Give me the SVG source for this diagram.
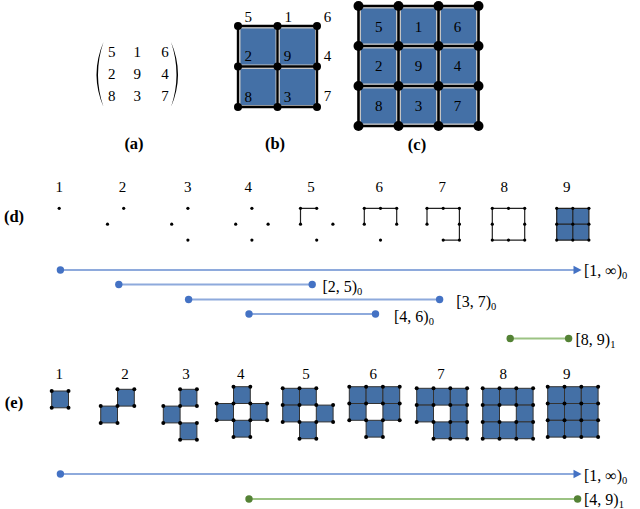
<svg xmlns="http://www.w3.org/2000/svg" width="640" height="509" viewBox="0 0 640 509" font-family="'Liberation Serif','DejaVu Serif',serif">
<style>
text{font-family:"Liberation Serif","DejaVu Serif",serif;fill:#000}
.n{font-size:15px;text-anchor:middle}
.lab{font-size:16.5px;font-weight:bold;text-anchor:middle}
.bl{font-size:16px}
.sub{font-size:10.5px}
.cellB{fill:#4470a6;stroke:#c4c4c4;stroke-width:1}
.gridB{stroke:#000;fill:none;stroke-linecap:round}
.ec{fill:#4470a6;stroke:#333;stroke-width:1}
.de{stroke:#222;stroke-width:1.2;fill:none}
.bline{stroke:#8eaadc;stroke-width:2}
.gline{stroke:#9cc383;stroke-width:2}
.bdot{fill:#4472c4}
.gdot{fill:#548235}
</style>
<defs>
<circle id="d" r="2" fill="#000"/>
<circle id="s" r="1.6" fill="#000"/>
<rect id="c" width="16.8" height="16.8" class="ec"/>
</defs>

<g id="matrix-a">
<path d="M103.5,42 Q89.5,74.5 103.5,107 Q92.5,74.5 103.5,42 Z" fill="#000"/>
<path d="M171,42 Q185,74.5 171,107 Q182,74.5 171,42 Z" fill="#000"/>
<text class="n" x="111.7" y="57">5</text><text class="n" x="137.3" y="57">1</text><text class="n" x="165" y="57">6</text>
<text class="n" x="111.7" y="79">2</text><text class="n" x="137.3" y="79">9</text><text class="n" x="165" y="79">4</text>
<text class="n" x="111.7" y="101">8</text><text class="n" x="137.3" y="101">3</text><text class="n" x="165" y="101">7</text>
<text class="lab" x="134" y="149">(a)</text>
</g>

<g id="grid-b">
<rect class="cellB" x="240" y="28" width="36" height="37" rx="2"/>
<rect class="cellB" x="279.5" y="28" width="36" height="37" rx="2"/>
<rect class="cellB" x="240" y="68.5" width="36" height="37" rx="2"/>
<rect class="cellB" x="279.5" y="68.5" width="36" height="37" rx="2"/>
<path class="gridB" stroke-width="2.4" d="M238,26H317V107H238Z M238,66.5H317 M277.5,26V107"/>
<g fill="#000">
<circle cx="238" cy="26" r="4"/><circle cx="277.5" cy="26" r="4"/><circle cx="317" cy="26" r="4"/>
<circle cx="238" cy="66.5" r="4"/><circle cx="277.5" cy="66.5" r="4"/><circle cx="317" cy="66.5" r="4"/>
<circle cx="238" cy="107" r="4"/><circle cx="277.5" cy="107" r="4"/><circle cx="317" cy="107" r="4"/>
</g>
<text class="n" x="248.3" y="22">5</text><text class="n" x="288.3" y="22">1</text><text class="n" x="327.5" y="22">6</text>
<text class="n" x="248.3" y="61">2</text><text class="n" x="287.5" y="61">9</text><text class="n" x="327.5" y="61">4</text>
<text class="n" x="248.3" y="101.5">8</text><text class="n" x="287.5" y="101.5">3</text><text class="n" x="327.5" y="101">7</text>
<text class="lab" x="275" y="149">(b)</text>
</g>

<g id="grid-c">
<rect class="cellB" x="360.5" y="8" width="36" height="36" rx="2"/>
<rect class="cellB" x="400.5" y="8" width="36" height="36" rx="2"/>
<rect class="cellB" x="440.5" y="8" width="36" height="36" rx="2"/>
<rect class="cellB" x="360.5" y="48" width="36" height="36" rx="2"/>
<rect class="cellB" x="400.5" y="48" width="36" height="36" rx="2"/>
<rect class="cellB" x="440.5" y="48" width="36" height="36" rx="2"/>
<rect class="cellB" x="360.5" y="88" width="36" height="36" rx="2"/>
<rect class="cellB" x="400.5" y="88" width="36" height="36" rx="2"/>
<rect class="cellB" x="440.5" y="88" width="36" height="36" rx="2"/>
<path class="gridB" stroke-width="2.6" d="M358.5,6H478.5V126H358.5Z M358.5,46H478.5 M358.5,86H478.5 M398.5,6V126 M438.5,6V126"/>
<g fill="#000">
<circle cx="358.5" cy="6" r="5"/><circle cx="398.5" cy="6" r="5"/><circle cx="438.5" cy="6" r="5"/><circle cx="478.5" cy="6" r="5"/>
<circle cx="358.5" cy="46" r="5"/><circle cx="398.5" cy="46" r="5"/><circle cx="438.5" cy="46" r="5"/><circle cx="478.5" cy="46" r="5"/>
<circle cx="358.5" cy="86" r="5"/><circle cx="398.5" cy="86" r="5"/><circle cx="438.5" cy="86" r="5"/><circle cx="478.5" cy="86" r="5"/>
<circle cx="358.5" cy="126" r="5"/><circle cx="398.5" cy="126" r="5"/><circle cx="438.5" cy="126" r="5"/><circle cx="478.5" cy="126" r="5"/>
</g>
<text class="n" x="378.7" y="32">5</text><text class="n" x="418.5" y="32">1</text><text class="n" x="457.5" y="32">6</text>
<text class="n" x="378.7" y="71">2</text><text class="n" x="418.5" y="71">9</text><text class="n" x="457.5" y="71">4</text>
<text class="n" x="378.7" y="111">8</text><text class="n" x="418.5" y="111">3</text><text class="n" x="457.5" y="111">7</text>
<text class="lab" x="417" y="150">(c)</text>
</g>

<g id="row-d">
<text class="lab" x="14" y="222">(d)</text>
<text class="n" x="59.3" y="192">1</text><text class="n" x="122.5" y="192">2</text><text class="n" x="187.7" y="192">3</text>
<text class="n" x="248.3" y="192">4</text><text class="n" x="311" y="192">5</text><text class="n" x="379.3" y="192">6</text>
<text class="n" x="442.3" y="192">7</text><text class="n" x="504.3" y="192">8</text><text class="n" x="566.7" y="192">9</text>
<g id="d1" transform="translate(43,208.3)"><use href="#s" x="16.2" y="0"/></g>
<g id="d2" transform="translate(107.5,208.3)"><use href="#s" x="16.2" y="0"/><use href="#s" x="0" y="15.9"/></g>
<g id="d3" transform="translate(171.7,208.3)"><use href="#s" x="16.2" y="0"/><use href="#s" x="0" y="15.9"/><use href="#s" x="16.2" y="31.8"/></g>
<g id="d4" transform="translate(235.7,208.3)"><use href="#s" x="16.2" y="0"/><use href="#s" x="0" y="15.9"/><use href="#s" x="16.2" y="31.8"/><use href="#s" x="32.4" y="15.9"/></g>
<g id="d5" transform="translate(300.5,208.3)"><path class="de" d="M16.2,0H0V15.9"/><use href="#s" x="0" y="0"/><use href="#s" x="16.2" y="0"/><use href="#s" x="0" y="15.9"/><use href="#s" x="16.2" y="31.8"/><use href="#s" x="32.4" y="15.9"/></g>
<g id="d6" transform="translate(364.3,208.3)"><path class="de" d="M0,15.9V0H32.4V15.9"/><use href="#s" x="0" y="0"/><use href="#s" x="16.2" y="0"/><use href="#s" x="32.4" y="0"/><use href="#s" x="0" y="15.9"/><use href="#s" x="32.4" y="15.9"/><use href="#s" x="16.2" y="31.8"/></g>
<g id="d7" transform="translate(427,208.3)"><path class="de" d="M0,15.9V0H32.4V31.8H16.2"/><use href="#s" x="0" y="0"/><use href="#s" x="16.2" y="0"/><use href="#s" x="32.4" y="0"/><use href="#s" x="0" y="15.9"/><use href="#s" x="32.4" y="15.9"/><use href="#s" x="16.2" y="31.8"/><use href="#s" x="32.4" y="31.8"/></g>
<g id="d8" transform="translate(492.3,208.3)"><path class="de" d="M0,0H32.4V31.8H0Z"/><use href="#s" x="0" y="0"/><use href="#s" x="16.2" y="0"/><use href="#s" x="32.4" y="0"/><use href="#s" x="0" y="15.9"/><use href="#s" x="32.4" y="15.9"/><use href="#s" x="0" y="31.8"/><use href="#s" x="16.2" y="31.8"/><use href="#s" x="32.4" y="31.8"/></g>
<g id="d9" transform="translate(556.7,208.3)"><rect x="0" y="0" width="32.2" height="31.8" fill="#4470a6"/><path class="de" d="M0,0H32.2V31.8H0Z M0,15.9H32.2 M16.1,0V31.8"/><use href="#s" x="0" y="0"/><use href="#s" x="16.1" y="0"/><use href="#s" x="32.2" y="0"/><use href="#s" x="0" y="15.9"/><use href="#s" x="16.1" y="15.9"/><use href="#s" x="32.2" y="15.9"/><use href="#s" x="0" y="31.8"/><use href="#s" x="16.1" y="31.8"/><use href="#s" x="32.2" y="31.8"/></g>
</g>

<g id="row-e">
<text class="lab" x="14" y="408">(e)</text>
<text class="n" x="59.3" y="379">1</text><text class="n" x="125" y="379">2</text><text class="n" x="186" y="379">3</text>
<text class="n" x="240.7" y="379">4</text><text class="n" x="306" y="379">5</text><text class="n" x="373.3" y="379">6</text>
<text class="n" x="441" y="379">7</text><text class="n" x="503.3" y="379">8</text><text class="n" x="566.7" y="379">9</text>
<g id="e1" transform="translate(34.9,391)"><use href="#c" x="16.8" y="0"/>
<use href="#d" x="16.8" y="0"/><use href="#d" x="33.6" y="0"/><use href="#d" x="16.8" y="16.8"/><use href="#d" x="33.6" y="16.8"/></g>
<g id="e2" transform="translate(100.7,389.3)"><use href="#c" x="16.8" y="0"/><use href="#c" x="0" y="16.8"/>
<use href="#d" x="16.8" y="0"/><use href="#d" x="33.6" y="0"/><use href="#d" x="16.8" y="16.8"/><use href="#d" x="33.6" y="16.8"/><use href="#d" x="0" y="16.8"/><use href="#d" x="0" y="33.6"/><use href="#d" x="16.8" y="33.6"/></g>
<g id="e3" transform="translate(163.3,389.3)"><use href="#c" x="16.8" y="0"/><use href="#c" x="0" y="16.8"/><use href="#c" x="16.8" y="33.6"/>
<use href="#d" x="16.8" y="0"/><use href="#d" x="33.6" y="0"/><use href="#d" x="16.8" y="16.8"/><use href="#d" x="33.6" y="16.8"/><use href="#d" x="0" y="16.8"/><use href="#d" x="0" y="33.6"/><use href="#d" x="16.8" y="33.6"/><use href="#d" x="33.6" y="33.6"/><use href="#d" x="16.8" y="50.4"/><use href="#d" x="33.6" y="50.4"/></g>
<g id="e4" transform="translate(216.7,386.7)"><use href="#c" x="16.8" y="0"/><use href="#c" x="0" y="16.8"/><use href="#c" x="16.8" y="33.6"/><use href="#c" x="33.6" y="16.8"/>
<use href="#d" x="16.8" y="0"/><use href="#d" x="33.6" y="0"/><use href="#d" x="16.8" y="16.8"/><use href="#d" x="33.6" y="16.8"/><use href="#d" x="0" y="16.8"/><use href="#d" x="0" y="33.6"/><use href="#d" x="16.8" y="33.6"/><use href="#d" x="33.6" y="33.6"/><use href="#d" x="16.8" y="50.4"/><use href="#d" x="33.6" y="50.4"/><use href="#d" x="50.4" y="16.8"/><use href="#d" x="50.4" y="33.6"/></g>
<g id="e5" transform="translate(282.7,388.3)"><use href="#c" x="0" y="0"/><use href="#c" x="16.8" y="0"/><use href="#c" x="0" y="16.8"/><use href="#c" x="16.8" y="33.6"/><use href="#c" x="33.6" y="16.8"/>
<use href="#d" x="0" y="0"/><use href="#d" x="16.8" y="0"/><use href="#d" x="33.6" y="0"/><use href="#d" x="16.8" y="16.8"/><use href="#d" x="33.6" y="16.8"/><use href="#d" x="0" y="16.8"/><use href="#d" x="0" y="33.6"/><use href="#d" x="16.8" y="33.6"/><use href="#d" x="33.6" y="33.6"/><use href="#d" x="16.8" y="50.4"/><use href="#d" x="33.6" y="50.4"/><use href="#d" x="50.4" y="16.8"/><use href="#d" x="50.4" y="33.6"/></g>
<g id="e6" transform="translate(349.3,386.7)"><use href="#c" x="0" y="0"/><use href="#c" x="16.8" y="0"/><use href="#c" x="33.6" y="0"/><use href="#c" x="0" y="16.8"/><use href="#c" x="16.8" y="33.6"/><use href="#c" x="33.6" y="16.8"/>
<use href="#d" x="0" y="0"/><use href="#d" x="16.8" y="0"/><use href="#d" x="33.6" y="0"/><use href="#d" x="50.4" y="0"/><use href="#d" x="16.8" y="16.8"/><use href="#d" x="33.6" y="16.8"/><use href="#d" x="0" y="16.8"/><use href="#d" x="0" y="33.6"/><use href="#d" x="16.8" y="33.6"/><use href="#d" x="33.6" y="33.6"/><use href="#d" x="16.8" y="50.4"/><use href="#d" x="33.6" y="50.4"/><use href="#d" x="50.4" y="16.8"/><use href="#d" x="50.4" y="33.6"/></g>
<g id="e7" transform="translate(416.7,388.3)"><use href="#c" x="0" y="0"/><use href="#c" x="16.8" y="0"/><use href="#c" x="33.6" y="0"/><use href="#c" x="0" y="16.8"/><use href="#c" x="16.8" y="33.6"/><use href="#c" x="33.6" y="16.8"/><use href="#c" x="33.6" y="33.6"/>
<use href="#d" x="0" y="0"/><use href="#d" x="16.8" y="0"/><use href="#d" x="33.6" y="0"/><use href="#d" x="50.4" y="0"/><use href="#d" x="16.8" y="16.8"/><use href="#d" x="33.6" y="16.8"/><use href="#d" x="0" y="16.8"/><use href="#d" x="0" y="33.6"/><use href="#d" x="16.8" y="33.6"/><use href="#d" x="33.6" y="33.6"/><use href="#d" x="16.8" y="50.4"/><use href="#d" x="33.6" y="50.4"/><use href="#d" x="50.4" y="16.8"/><use href="#d" x="50.4" y="33.6"/><use href="#d" x="50.4" y="50.4"/></g>
<g id="e8" transform="translate(482.7,388.3)"><use href="#c" x="0" y="0"/><use href="#c" x="16.8" y="0"/><use href="#c" x="33.6" y="0"/><use href="#c" x="0" y="16.8"/><use href="#c" x="16.8" y="33.6"/><use href="#c" x="33.6" y="16.8"/><use href="#c" x="33.6" y="33.6"/><use href="#c" x="0" y="33.6"/>
<use href="#d" x="0" y="0"/><use href="#d" x="16.8" y="0"/><use href="#d" x="33.6" y="0"/><use href="#d" x="50.4" y="0"/><use href="#d" x="16.8" y="16.8"/><use href="#d" x="33.6" y="16.8"/><use href="#d" x="0" y="16.8"/><use href="#d" x="0" y="33.6"/><use href="#d" x="16.8" y="33.6"/><use href="#d" x="33.6" y="33.6"/><use href="#d" x="16.8" y="50.4"/><use href="#d" x="33.6" y="50.4"/><use href="#d" x="50.4" y="16.8"/><use href="#d" x="50.4" y="33.6"/><use href="#d" x="50.4" y="50.4"/><use href="#d" x="0" y="50.4"/></g>
<g id="e9" transform="translate(547.7,386.7)"><use href="#c" x="0" y="0"/><use href="#c" x="16.8" y="0"/><use href="#c" x="33.6" y="0"/><use href="#c" x="0" y="16.8"/><use href="#c" x="16.8" y="16.8"/><use href="#c" x="16.8" y="33.6"/><use href="#c" x="33.6" y="16.8"/><use href="#c" x="33.6" y="33.6"/><use href="#c" x="0" y="33.6"/>
<use href="#d" x="0" y="0"/><use href="#d" x="16.8" y="0"/><use href="#d" x="33.6" y="0"/><use href="#d" x="50.4" y="0"/><use href="#d" x="16.8" y="16.8"/><use href="#d" x="33.6" y="16.8"/><use href="#d" x="0" y="16.8"/><use href="#d" x="0" y="33.6"/><use href="#d" x="16.8" y="33.6"/><use href="#d" x="33.6" y="33.6"/><use href="#d" x="16.8" y="50.4"/><use href="#d" x="33.6" y="50.4"/><use href="#d" x="50.4" y="16.8"/><use href="#d" x="50.4" y="33.6"/><use href="#d" x="50.4" y="50.4"/><use href="#d" x="0" y="50.4"/></g>
</g>

<g id="connectors">
<line class="bline" x1="60.4" y1="270" x2="574" y2="270"/><path class="bdot" d="M581.6,270L573.5,265.8V274.2Z"/><circle class="bdot" cx="60.4" cy="270" r="3.7"/>
<line class="bline" x1="118.8" y1="284.5" x2="312.2" y2="284.5"/><circle class="bdot" cx="118.8" cy="284.5" r="3.7"/><circle class="bdot" cx="312.2" cy="284.5" r="3.7"/>
<line class="bline" x1="188.6" y1="299.5" x2="439.6" y2="299.5"/><circle class="bdot" cx="188.6" cy="299.5" r="3.7"/><circle class="bdot" cx="439.6" cy="299.5" r="3.7"/>
<line class="bline" x1="249" y1="314" x2="375.5" y2="314"/><circle class="bdot" cx="249" cy="314" r="3.7"/><circle class="bdot" cx="375.5" cy="314" r="3.7"/>
<line class="gline" x1="510.2" y1="338.5" x2="568.6" y2="338.5"/><circle class="gdot" cx="510.2" cy="338.5" r="3.7"/><circle class="gdot" cx="568.6" cy="338.5" r="3.7"/>
<line class="bline" x1="60.4" y1="474" x2="574" y2="474"/><path class="bdot" d="M581.6,474L573.5,469.8V478.2Z"/><circle class="bdot" cx="60.4" cy="474" r="3.7"/>
<line class="gline" x1="249" y1="499" x2="577.6" y2="499"/><circle class="gdot" cx="249" cy="499" r="3.7"/><circle class="gdot" cx="577.6" cy="499" r="3.7"/>
<text class="bl" x="584" y="275.5">[1, ∞)<tspan class="sub" dy="3">0</tspan></text>
<text class="bl" x="322.4" y="291.5">[2, 5)<tspan class="sub" dy="3">0</tspan></text>
<text class="bl" x="456.3" y="306.5">[3, 7)<tspan class="sub" dy="3">0</tspan></text>
<text class="bl" x="394" y="321.5">[4, 6)<tspan class="sub" dy="3">0</tspan></text>
<text class="bl" x="575.5" y="345">[8, 9)<tspan class="sub" dy="3">1</tspan></text>
<text class="bl" x="584" y="480.5">[1, ∞)<tspan class="sub" dy="3">0</tspan></text>
<text class="bl" x="584" y="504.5">[4, 9)<tspan class="sub" dy="3">1</tspan></text>
</g>
</svg>
